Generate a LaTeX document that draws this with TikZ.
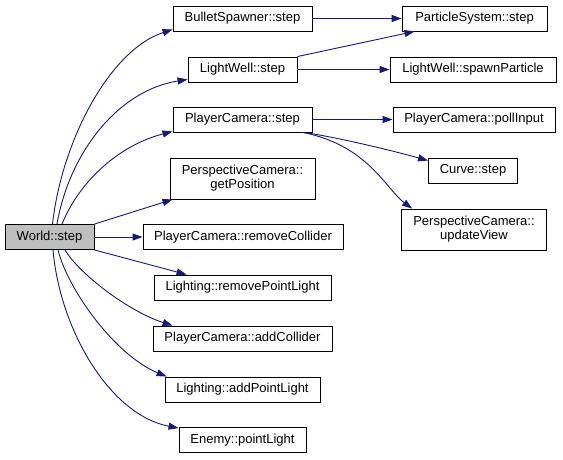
\documentclass[tikz,border=0pt]{standalone}
\usepackage{fontspec}
\setmainfont{Liberation Sans}
\usetikzlibrary{arrows.meta}
\definecolor{edgeblue}{HTML}{191970}
\definecolor{worldgray}{HTML}{BFBFBF}
\begin{document}
\begin{tikzpicture}[x=1pt,y=-1pt,
  box/.style={draw=black,fill=white,line width=0.9pt,inner sep=0pt,minimum height=25pt,
    font=\fontsize{13}{14}\selectfont,align=center},
  tall/.style={minimum height=41pt},
  edge/.style={draw=edgeblue,line width=0.9pt,-{Triangle[length=10pt,width=7pt]}}]
\useasboundingbox (0,0) rectangle (563,459);
% nodes
\node[box,fill=worldgray,minimum width=89pt] (world) at (49.5,237) {World::step};
\node[box,minimum width=139pt] (bullet) at (242.5,18.5) {BulletSpawner::step};
\node[box,minimum width=145pt] (particle) at (474.5,18.5) {ParticleSystem::step};
\node[box,minimum width=109pt] (lwstep) at (242.5,69.5) {LightWell::step};
\node[box,minimum width=166pt] (spawn) at (473,69.5) {LightWell::spawnParticle};
\node[box,minimum width=139pt] (pcstep) at (242.5,119.5) {PlayerCamera::step};
\node[box,minimum width=162pt] (poll) at (474,119.5) {PlayerCamera::pollInput};
\node[box,minimum width=89pt] (curve) at (473,170.5) {Curve::step};
\node[box,tall,minimum width=145pt] (update) at (474,229.5) {PerspectiveCamera::\\updateView};
\node[box,tall,minimum width=145pt] (getpos) at (242.5,178.5) {PerspectiveCamera::\\getPosition};
\node[box,minimum width=200pt] (remcol) at (243,237) {PlayerCamera::removeCollider};
\node[box,minimum width=177pt] (rempl) at (242.5,287.5) {Lighting::removePointLight};
\node[box,minimum width=179pt] (addcol) at (242.5,338.5) {PlayerCamera::addCollider};
\node[box,minimum width=155pt] (addpl) at (242.5,389.5) {Lighting::addPointLight};
\node[box,minimum width=127pt] (enemy) at (242.5,440) {Enemy::pointLight};
% edges from World::step
\draw[edge] ([xshift=3pt]world.north) .. controls (62,140) and (110,50) .. ([yshift=2pt]bullet.south west);
\draw[edge] ([xshift=7.5pt]world.north) .. controls (70,150) and (120,90) .. ([yshift=3pt]lwstep.south west);
\draw[edge] ([xshift=12.5pt]world.north) .. controls (80,180) and (120,145) .. ([yshift=1pt]pcstep.south west);
\draw[edge] (world.north east) -- ([xshift=3pt]getpos.south west);
\draw[edge] (world.east) -- (remcol.west);
\draw[edge] (world.south east) -- ([xshift=33pt]rempl.north west);
\draw[edge] ([xshift=15.5pt]world.south) .. controls (80,275) and (130,312) .. ([xshift=20pt]addcol.north west);
\draw[edge] ([xshift=8.5pt]world.south) .. controls (68,290) and (115,355) .. ([xshift=2pt]addpl.north west);
\draw[edge] ([xshift=3.5pt]world.south) .. controls (60,330) and (110,415) .. ([yshift=-1pt]enemy.north west);
% second level
\draw[edge] (bullet.east) -- (particle.west);
\draw[edge] (lwstep.north east) -- ([xshift=13pt]particle.south west);
\draw[edge] (lwstep.east) -- (spawn.west);
\draw[edge] (pcstep.east) -- (poll.west);
\draw[edge] ([xshift=-8pt]pcstep.south east) .. controls (340,138) and (390,150) .. ([yshift=-3pt]curve.north west);
\draw[edge] ([xshift=-10pt]pcstep.south east) .. controls (367.6,144.8) and (386.5,189.6) .. ([xshift=11pt]update.north west);
\end{tikzpicture}
\end{document}
